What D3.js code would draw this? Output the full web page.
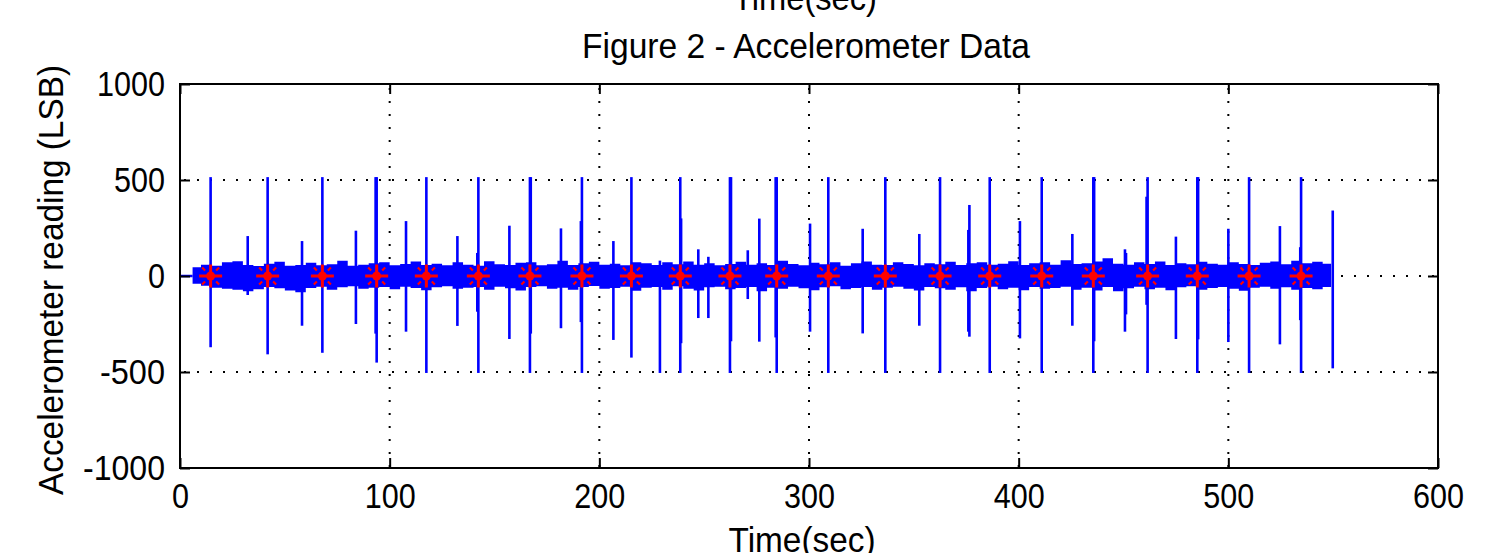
<!DOCTYPE html>
<html>
<head>
<meta charset="utf-8">
<script src="https://cdn.jsdelivr.net/npm/d3@7"></script>
<style>
    body { margin: 0; background: #fff; }
    svg text { font-family: "Liberation Sans", Arial, sans-serif; fill: #000; }
</style>
</head>
<body>
<svg id="chart" width="1498" height="553"></svg>
<script>
// Times (sec) of the big periodic spikes, each one is marked with a red star.
const starTimes = [14.6, 41.8, 67.9, 93.8, 117.5, 142.3, 166.9, 191.7, 215.3, 238.6, 262.3,
    284.6, 309.2, 336.4, 362.5, 386.2, 411.0, 435.6, 461.5, 485.2, 509.9, 534.7];

// Spikes: time, highest and lowest reading (LSB) of each vertical excursion.
const spikeTime = [14.6, 41.8, 67.9, 93.8, 93.3, 117.5, 142.3, 141.8, 166.9, 167.3, 191.7, 191.2,
    215.3, 228.9, 238.6, 239.0, 262.3, 262.8, 284.6, 284.1, 309.2, 336.4, 362.5, 386.2, 411.0,
    435.6, 436.0, 461.5, 461.0, 485.2, 485.6, 509.9, 534.7, 534.3,
    32.3, 58.2, 83.9, 107.8, 132.3, 157.1, 181.7, 206.7, 247.2, 252.0, 270.8, 276.3, 300.5,
    325.6, 352.6, 376.5, 376.0, 400.6, 425.6, 450.7, 451.2, 475.0, 500.0, 524.6, 549.8];
const spikeHigh = [515, 515, 515, 515, 515, 515, 515, 120, 515, 515, 515, 286,
    515, 80, 515, 300, 515, 515, 515, 515, 515, 515, 515, 515, 515,
    515, 515, 515, 413, 515, 515, 515, 515, 150,
    208, 182, 236, 286, 208, 262, 248, 182, 139, 100, 134, 299, 273,
    246, 219, 370, 240, 286, 219, 139, 120, 205, 246, 260, 341];
const spikeLow = [-371, -408, -400, -451, -300, -505, -505, -186, -505, -300, -505, -240,
    -425, -505, -505, -350, -505, -340, -505, -320, -505, -505, -505, -505, -505,
    -505, -340, -505, -150, -505, -330, -505, -505, -230,
    -99, -259, -250, -290, -260, -328, -272, -333, -219, -219, -120, -342, -290,
    -299, -259, -316, -290, -325, -259, -290, -200, -328, -344, -356, -481];

// Envelope of the dense noise band around zero (LSB).
const envTime = [6, 10, 15, 20, 25, 30, 35, 40, 45, 50, 55, 60, 65, 70, 75, 80, 85, 90, 95, 100,
    105, 110, 115, 120, 125, 130, 135, 140, 145, 150, 155, 160, 165, 170, 175, 180, 185, 190, 195, 200,
    205, 210, 215, 220, 225, 230, 235, 240, 245, 250, 255, 260, 265, 270, 275, 280, 285, 290, 295, 300,
    305, 310, 315, 320, 325, 330, 335, 340, 345, 350, 355, 360, 365, 370, 375, 380, 385, 390, 395, 400,
    405, 410, 415, 420, 425, 430, 435, 440, 445, 450, 455, 460, 465, 470, 475, 480, 485, 490, 495, 500,
    505, 510, 515, 520, 525, 530, 535, 540, 545, 549];
const envUpper = [46, 59, 54, 71, 77, 57, 52, 64, 74, 54, 57, 69, 56, 61, 79, 54, 59, 66, 72, 56,
    62, 75, 57, 64, 56, 71, 59, 54, 77, 61, 57, 69, 72, 56, 61, 80, 57, 66, 74, 59,
    64, 56, 72, 66, 57, 71, 61, 75, 59, 67, 56, 62, 74, 59, 66, 57, 79, 62, 56, 69,
    61, 71, 54, 66, 75, 59, 57, 72, 62, 56, 67, 61, 74, 57, 66, 71, 59, 64, 77, 57,
    66, 72, 59, 82, 62, 67, 75, 92, 64, 59, 71, 62, 75, 57, 67, 61, 74, 64, 59, 71,
    62, 57, 69, 75, 61, 79, 66, 74, 64, 59];
const envLower = [-41, -51, -61, -66, -72, -79, -69, -57, -64, -75, -85, -62, -56, -72, -59, -54, -66, -61, -57, -69,
    -56, -62, -74, -59, -54, -67, -61, -57, -71, -56, -64, -75, -57, -54, -66, -61, -72, -57, -52, -67,
    -62, -56, -77, -61, -57, -71, -54, -66, -75, -59, -56, -69, -62, -57, -79, -61, -67, -56, -64, -74,
    -59, -54, -69, -62, -57, -72, -61, -56, -67, -75, -57, -64, -71, -59, -80, -62, -56, -69, -61, -74,
    -57, -66, -62, -56, -71, -61, -75, -57, -79, -64, -56, -69, -61, -74, -59, -54, -71, -62, -57, -67,
    -77, -61, -56, -66, -59, -72, -62, -69, -57, -54];

// Axis ticks and the inner grid lines.
const xTicks = [0, 100, 200, 300, 400, 500, 600];
const yTicks = [-1000, -500, 0, 500, 1000];
const xGrid = [100, 200, 300, 400, 500];
const yGrid = [-500, 0, 500];

// Layout of the figure
const plotLeft = 180, plotRight = 1438, plotTop = 84, plotBottom = 468;
const blue = "#0000ff", red = "#ff0000";

const svg = d3.select("#chart");

const scaleX = d3.scaleLinear().domain([0, 600]).range([plotLeft, plotRight]);
const scaleY = d3.scaleLinear().domain([-1000, 1000]).range([plotBottom, plotTop]);

// Dotted grid, under the data
let grid = svg.append("g").attr("id", "grid")
    .attr("stroke", "#000").attr("stroke-width", 2).attr("stroke-dasharray", "2 11");
grid.selectAll(".gx").data(xGrid).enter().append("line")
    .attr("x1", d => scaleX(d)).attr("x2", d => scaleX(d))
    .attr("y1", plotTop + 4).attr("y2", plotBottom);
grid.selectAll(".gy").data(yGrid).enter().append("line")
    .attr("x1", plotLeft + 4).attr("x2", plotRight)
    .attr("y1", d => scaleY(d)).attr("y2", d => scaleY(d));

// The data
let body = svg.append("g").attr("id", "chartBody");

// Flat start before the noise begins
body.append("path")
    .attr("d", d3.line().x(d => scaleX(d)).y(scaleY(0))([0, envTime[0]]))
    .attr("stroke", blue).attr("stroke-width", 2.5).attr("fill", "none");

// Noise band
const band = envTime.map((t, i) => ({t: t, hi: envUpper[i], lo: envLower[i]}));
body.append("path")
    .datum(band)
    .attr("d", d3.area()
        .x(d => scaleX(d.t))
        .y0(d => scaleY(d.lo))
        .y1(d => scaleY(d.hi))
        .curve(d3.curveStepAfter))
    .attr("fill", blue);

// Spikes
const spikes = spikeTime.map((t, i) => ({t: t, hi: spikeHigh[i], lo: spikeLow[i]}));
body.selectAll(".spike").data(spikes).enter().append("line")
    .attr("class", "spike")
    .attr("x1", d => scaleX(d.t)).attr("x2", d => scaleX(d.t))
    .attr("y1", d => scaleY(d.hi)).attr("y2", d => scaleY(d.lo))
    .attr("stroke", blue).attr("stroke-width", 2.6);

// Red star markers: a long plus, short diagonals and a filled centre
let stars = body.selectAll(".star").data(starTimes).enter().append("g")
    .attr("class", "star")
    .attr("transform", d => `translate(${scaleX(d)},${scaleY(0)})`)
    .attr("stroke", red);
stars.append("path").attr("d", "M-11.5,0H11.5M0,-11.5V11.5").attr("stroke-width", 3);
stars.append("path")
    .attr("d", "M5.5,5.5L8.5,8.5M-5.5,-5.5L-8.5,-8.5M5.5,-5.5L8.5,-8.5M-5.5,5.5L-8.5,8.5")
    .attr("stroke-width", 2.2);
stars.append("circle").attr("r", 4.5).attr("fill", red).attr("stroke", "none");

// Axes with inward ticks on all four sides
function styleAxis(g){
    g.select(".domain").remove();
    g.selectAll(".tick line").attr("stroke", "#000").attr("stroke-width", 2);
    g.selectAll(".tick text")
        .style("font-size", "35px")
        .attr("textLength", d => {
            let s = String(d);
            return s.replace("-", "").length * 17 + (s.includes("-") ? 14 : 0);
        })
        .attr("lengthAdjust", "spacingAndGlyphs");
}
const plainFormat = d => String(d);
svg.append("g")
    .attr("transform", `translate(0,${plotBottom})`)
    .call(d3.axisBottom(scaleX).tickValues(xTicks).tickFormat(plainFormat)
        .tickSizeInner(-10).tickSizeOuter(0).tickPadding(15))
    .call(styleAxis);
svg.append("g")
    .attr("transform", `translate(${plotLeft},0)`)
    .call(d3.axisLeft(scaleY).tickValues(yTicks).tickFormat(plainFormat)
        .tickSizeInner(-10).tickSizeOuter(0).tickPadding(15))
    .call(styleAxis);
svg.append("g")
    .attr("transform", `translate(0,${plotTop})`)
    .call(d3.axisTop(scaleX).tickValues(xTicks).tickSizeInner(-10).tickSizeOuter(0).tickFormat(""))
    .call(styleAxis);
svg.append("g")
    .attr("transform", `translate(${plotRight},0)`)
    .call(d3.axisRight(scaleY).tickValues(yTicks).tickSizeInner(-10).tickSizeOuter(0).tickFormat(""))
    .call(styleAxis);

// Box around the plot
svg.append("rect")
    .attr("x", plotLeft).attr("y", plotTop)
    .attr("width", plotRight - plotLeft).attr("height", plotBottom - plotTop)
    .attr("fill", "none").attr("stroke", "#000").attr("stroke-width", 2);

// Texts
svg.append("text")
    .attr("x", 805).attr("y", 10)
    .attr("text-anchor", "middle")
    .attr("textLength", 144).attr("lengthAdjust", "spacingAndGlyphs")
    .style("font-size", "35px")
    .text("Time(sec)");
svg.append("text")
    .attr("x", 806).attr("y", 58)
    .attr("text-anchor", "middle")
    .attr("textLength", 448).attr("lengthAdjust", "spacingAndGlyphs")
    .style("font-size", "35px")
    .text("Figure 2 - Accelerometer Data");
svg.append("text")
    .attr("x", 802).attr("y", 552)
    .attr("text-anchor", "middle")
    .attr("textLength", 147).attr("lengthAdjust", "spacingAndGlyphs")
    .style("font-size", "35px")
    .text("Time(sec)");
svg.append("text")
    .attr("transform", "translate(63,280) rotate(-90)")
    .attr("text-anchor", "middle")
    .attr("textLength", 430).attr("lengthAdjust", "spacingAndGlyphs")
    .style("font-size", "35px")
    .text("Accelerometer reading (LSB)");
</script>
</body>
</html>
